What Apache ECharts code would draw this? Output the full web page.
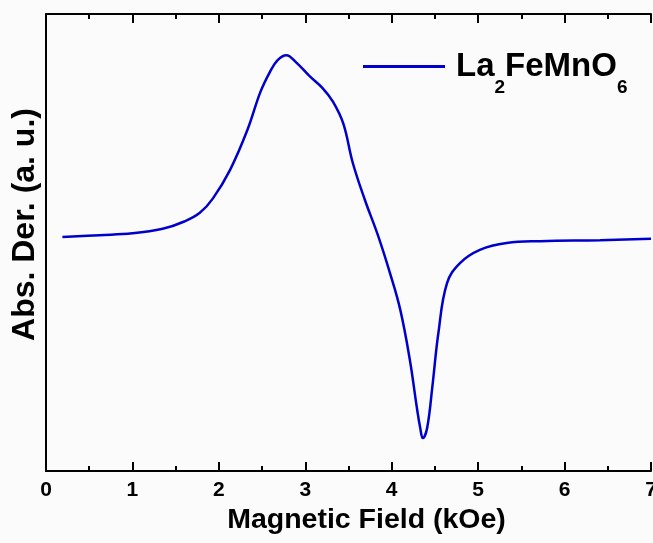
<!DOCTYPE html>
<html>
<head>
<meta charset="utf-8">
<script src="https://cdn.jsdelivr.net/npm/echarts@6/dist/echarts.min.js"></script>
<style>
  html, body { margin: 0; padding: 0; background: #fbfbfb; }
  #epr { width: 653px; height: 543px; }
</style>
</head>
<body>
<div id="epr"></div>
<script>
// EPR derivative spectrum (arbitrary units)
const fieldKOe = [0.19, 0.62, 1.0, 1.35, 1.6, 1.78, 1.93, 2.13, 2.33, 2.48, 2.59, 2.68, 2.78, 2.9, 3.05, 3.2, 3.32,
  3.44, 3.55, 3.69, 3.84, 3.98, 4.1, 4.21, 4.29, 4.33, 4.36, 4.41, 4.47, 4.54, 4.64, 4.79, 5.02, 5.33, 5.72, 6.41, 7.0];
const absDer = [51.2, 51.6, 52.0, 53.0, 54.6, 56.5, 59.6, 65.9, 74.6, 82.9, 87.3, 89.9, 91.0, 89.3, 86.4, 83.8, 80.8,
  76.0, 67.4, 59.3, 51.6, 43.3, 35.2, 24.3, 14.0, 9.4, 7.2, 9.4, 18.4, 30.2, 41.1, 45.5, 48.4, 49.9, 50.3, 50.5, 50.8];
const xTicks = ["0", "1", "2", "3", "4", "5", "6", "7"];

const font = "'Liberation Sans', Arial, sans-serif";

function buildOption() {
  const points = fieldKOe.map((x, i) => [x, absDer[i]]);

  const xBase = {
    type: "value",
    min: 0,
    max: 7,
    interval: 1,
    splitLine: { show: false },
    axisLine: { show: true, lineStyle: { color: "#000", width: 2 } },
    axisTick: { show: true, inside: true, length: 9, lineStyle: { color: "#000", width: 2 } },
    minorTick: { show: true, splitNumber: 2, length: 5, lineStyle: { color: "#000", width: 2 } },
  };

  return {
    backgroundColor: "#fbfbfb",
    animation: false,
    grid: { left: 46, right: 2, top: 14, bottom: 72, containLabel: false, outerBoundsMode: "none" },
    legend: {
      left: 363,
      top: 50,
      padding: 0,
      icon: "rect",
      itemWidth: 82,
      itemHeight: 3,
      data: ["La2FeMnO6"],
      formatter: () => "{n|La}{s|2}{n|FeMnO}{s|6}",
      textStyle: {
        padding: [14, 0, 0, 6],
        rich: {
          n: { fontSize: 33, fontWeight: "bold", fontFamily: font, color: "#000", lineHeight: 33, verticalAlign: "top" },
          s: { fontSize: 19, fontWeight: "bold", fontFamily: font, color: "#000", lineHeight: 47, verticalAlign: "bottom" },
        },
      },
    },
    xAxis: [
      Object.assign({}, xBase, {
        position: "bottom",
        name: "Magnetic Field (kOe)",
        nameLocation: "middle",
        nameGap: 32,
        nameTextStyle: { fontSize: 28.5, fontWeight: "bold", fontFamily: font, color: "#000", padding: [0, 0, 0, 36] },
        axisLabel: {
          margin: 9,
          fontSize: 21,
          fontWeight: "bold",
          fontFamily: font,
          color: "#000",
          formatter: (v) => xTicks[Math.round(v)],
        },
      }),
      Object.assign({}, xBase, {
        position: "top",
        axisLabel: { show: false },
      }),
    ],
    yAxis: {
      type: "value",
      min: 0,
      max: 100,
      name: "Abs. Der. (a. u.)",
      nameLocation: "middle",
      nameGap: 5,
      nameTextStyle: { fontSize: 32, fontWeight: "bold", fontFamily: font, color: "#000", padding: [0, 0, 0, 36] },
      splitLine: { show: false },
      axisLine: { show: true, lineStyle: { color: "#000", width: 2 } },
      axisTick: { show: false },
      axisLabel: { show: false },
    },
    series: [
      {
        name: "La2FeMnO6",
        type: "line",
        data: points,
        smooth: 0.4,
        showSymbol: false,
        itemStyle: { color: "#0000cc" },
        lineStyle: { color: "#0000cc", width: 2.5 },
      },
    ],
  };
}

const chart = echarts.init(document.querySelector("#epr"));
chart.setOption(buildOption());
</script>
</body>
</html>
